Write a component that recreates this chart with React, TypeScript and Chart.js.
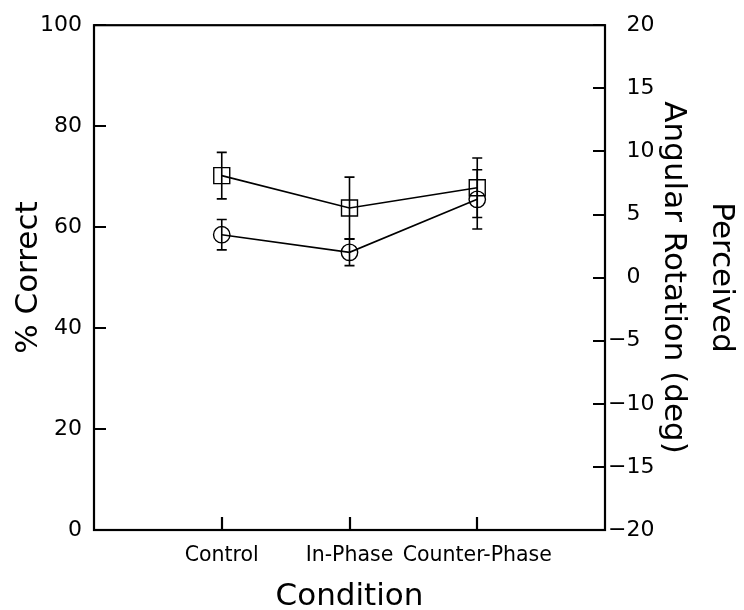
import React, { useEffect, useRef } from 'react';
import { Chart, registerables } from 'chart.js';

Chart.register(...registerables);

// ---- data ----
const categories = ['Control', 'In-Phase', 'Counter-Phase'];
const correctMean = [70.2, 63.8, 67.8];
const correctErr = [4.6, 6.1, 5.9];
const rotationMean = [3.4, 2.0, 6.2];
const rotationErr = [1.2, 1.05, 2.35];
const leftTickValues = [0, 20, 40, 60, 80, 100];
const rightTickValues = [-20, -15, -10, -5, 0, 5, 10, 15, 20];

const FONT = '"DejaVu Sans", "Liberation Sans", sans-serif';

const errorBarPlugin = {
  id: 'errorBars',
  afterDatasetsDraw(chart: any) {
    const ctx = chart.ctx;
    chart.data.datasets.forEach((ds: any, i: number) => {
      const meta = chart.getDatasetMeta(i);
      const yScale = chart.scales[ds.yAxisID];
      ctx.save();
      ctx.strokeStyle = '#000';
      ctx.lineWidth = 1.6;
      meta.data.forEach((pt: any, j: number) => {
        const m = ds.means[j];
        const e = ds.errs[j];
        const yt = yScale.getPixelForValue(m + e);
        const yb = yScale.getPixelForValue(m - e);
        const x = pt.x;
        ctx.beginPath();
        ctx.moveTo(x, yt);
        ctx.lineTo(x, yb);
        ctx.moveTo(x - 5, yt);
        ctx.lineTo(x + 5, yt);
        ctx.moveTo(x - 5, yb);
        ctx.lineTo(x + 5, yb);
        ctx.stroke();
      });
      ctx.restore();
    });
  },
};

const framePlugin = {
  id: 'frameTicks',
  afterDraw(chart: any) {
    const { ctx, chartArea } = chart;
    const { left, right, top, bottom } = chartArea;
    ctx.save();
    ctx.strokeStyle = '#000';
    ctx.lineWidth = 2.2;
    ctx.strokeRect(left, top, right - left, bottom - top);
    ctx.beginPath();
    const y = chart.scales.y;
    y.ticks.forEach((t: any) => {
      const p = Math.round(y.getPixelForValue(t.value));
      ctx.moveTo(left, p);
      ctx.lineTo(left + 12, p);
    });
    const y2 = chart.scales.y2;
    y2.ticks.forEach((t: any) => {
      const p = Math.round(y2.getPixelForValue(t.value));
      ctx.moveTo(right, p);
      ctx.lineTo(right - 12, p);
    });
    const x = chart.scales.x;
    x.ticks.forEach((t: any) => {
      const p = Math.round(x.getPixelForValue(t.value));
      ctx.moveTo(p, bottom);
      ctx.lineTo(p, bottom - 13);
    });
    ctx.stroke();
    ctx.restore();
  },
};

const fmtRight = (v: number) => {
  if (v < 0) return '\u2212' + Math.abs(v);
  return '\u2007\u2009' + v;
};

export default function App() {
  const ref = useRef<HTMLCanvasElement | null>(null);

  useEffect(() => {
    document.body.style.margin = '0';
    const canvas = ref.current;
    if (!canvas) return;
    const chart = new Chart(canvas, {
      type: 'line',
      data: {
        datasets: [
          {
            label: '% Correct',
            data: correctMean.map((v, i) => ({ x: i + 1, y: v })),
            means: correctMean,
            errs: correctErr,
            yAxisID: 'y',
            borderColor: '#000',
            borderWidth: 1.6,
            pointStyle: 'rect',
            pointRadius: 11.3,
            pointBorderWidth: 1.4,
            pointBorderColor: '#000',
            pointBackgroundColor: 'rgba(0,0,0,0)',
            fill: false,
            tension: 0,
          } as any,
          {
            label: 'Perceived Angular Rotation',
            data: rotationMean.map((v, i) => ({ x: i + 1, y: v })),
            means: rotationMean,
            errs: rotationErr,
            yAxisID: 'y2',
            borderColor: '#000',
            borderWidth: 1.6,
            pointStyle: 'circle',
            pointRadius: 8.2,
            pointBorderWidth: 1.4,
            pointBorderColor: '#000',
            pointBackgroundColor: 'rgba(0,0,0,0)',
            fill: false,
            tension: 0,
          } as any,
        ],
      },
      options: {
        animation: false,
        responsive: false,
        layout: { padding: { top: 20, left: 0, right: 0, bottom: 0 } },
        plugins: {
          legend: { display: false },
          tooltip: { enabled: false },
        },
        scales: {
          x: {
            type: 'linear',
            min: 0,
            max: 4,
            afterBuildTicks: (s: any) => {
              s.ticks = categories.map((_, i) => ({ value: i + 1 }));
            },
            afterFit: (s: any) => {
              s.height = 80;
            },
            grid: { display: false, drawTicks: false },
            border: { display: false },
            ticks: {
              autoSkip: false,
              maxRotation: 0,
              padding: 13,
              color: '#000',
              font: { family: FONT, size: 20.5 },
              callback: (v: any) => categories[Number(v) - 1] ?? '',
            },
            title: {
              display: true,
              text: 'Condition',
              color: '#000',
              font: { family: FONT, size: 31, lineHeight: 1 },
              padding: { top: 0, bottom: -2 },
            },
          },
          y: {
            type: 'linear',
            position: 'left',
            min: 0,
            max: 100,
            afterBuildTicks: (s: any) => {
              s.ticks = leftTickValues.map((v) => ({ value: v }));
            },
            afterFit: (s: any) => {
              s.width = 94;
            },
            grid: { display: false, drawTicks: false },
            border: { display: false },
            ticks: {
              padding: 12,
              color: '#000',
              font: { family: FONT, size: 22 },
            },
            title: {
              display: true,
              text: '% Correct',
              color: '#000',
              font: { family: FONT, size: 31, lineHeight: 1.2 },
              padding: { top: 10, bottom: 0 },
            },
          },
          y2: {
            type: 'linear',
            position: 'right',
            min: -20,
            max: 20,
            afterBuildTicks: (s: any) => {
              s.ticks = rightTickValues.map((v) => ({ value: v }));
            },
            afterFit: (s: any) => {
              s.width = 139;
            },
            grid: { display: false, drawTicks: false },
            border: { display: false },
            ticks: {
              padding: 3,
              crossAlign: 'near',
              color: '#000',
              font: { family: FONT, size: 22 },
              callback: (v: any) => fmtRight(Number(v)),
            },
            title: {
              display: true,
              text: ['Perceived', 'Angular Rotation (deg)'],
              color: '#000',
              font: { family: FONT, size: 31, lineHeight: 1.55 },
              padding: { top: -1, bottom: 0 },
            },
          },
        },
      } as any,
      plugins: [errorBarPlugin, framePlugin],
    });
    return () => chart.destroy();
  }, []);

  return <canvas ref={ref} width={744} height={610} style={{ display: 'block' }} />;
}
